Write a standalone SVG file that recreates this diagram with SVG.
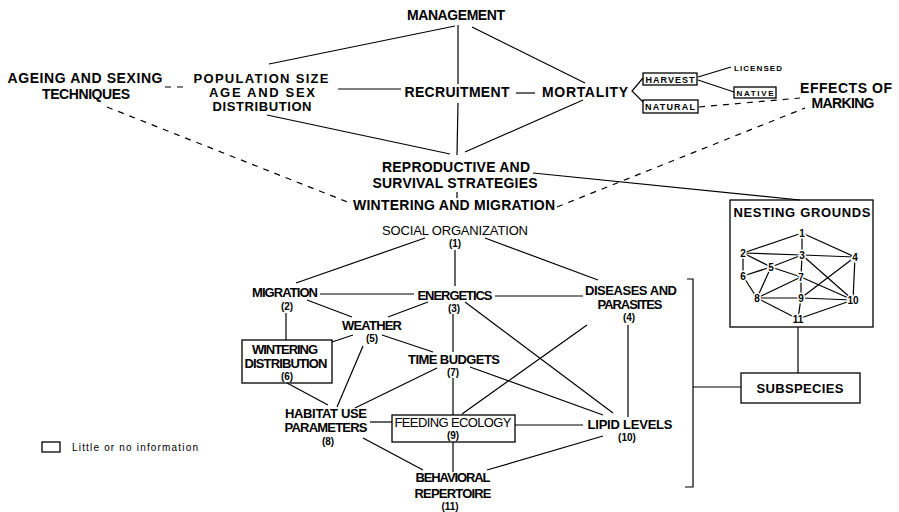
<svg xmlns="http://www.w3.org/2000/svg" width="899" height="512" viewBox="0 0 899 512">
<style>
text{font-family:"Liberation Sans",Arial,sans-serif;fill:#000;text-anchor:middle}
.b{font-size:14px;font-weight:bold}
.t{font-size:13px;font-weight:bold}
.r{font-size:13px}
.n{font-size:10px;font-weight:bold}
.s{font-size:9px;font-weight:bold}
.m{font-size:10px;font-weight:bold;stroke:#fff;stroke-width:3px;paint-order:stroke}
.box{fill:none;stroke:#000;stroke-width:1.3}
.ln{stroke:#000;stroke-width:1.2;fill:none}
.dl{stroke:#000;stroke-width:1.2;fill:none;stroke-dasharray:6 6}
</style>
<rect width="899" height="512" fill="#fff"/>
<g id="connectors">
<line class="ln" x1="455" y1="26" x2="269" y2="64"/>
<line class="ln" x1="458" y1="25" x2="458" y2="84"/>
<line class="ln" x1="458" y1="103" x2="457" y2="155"/>
<line class="ln" x1="472" y1="27" x2="585" y2="83"/>
<line class="ln" x1="338" y1="89" x2="401" y2="89"/>
<line class="ln" x1="516" y1="93" x2="535" y2="93"/>
<line class="ln" x1="267" y1="115" x2="450" y2="154"/>
<line class="ln" x1="583" y1="100" x2="465" y2="152"/>
<polyline class="ln" points="643,78 632,91 643,102"/>
<line class="ln" x1="698" y1="77" x2="731" y2="67"/>
<line class="ln" x1="698" y1="80" x2="734" y2="92"/>
<line class="dl" x1="699" y1="107" x2="800" y2="98"/>
<line class="dl" x1="165" y1="87" x2="183" y2="87"/>
<line class="dl" x1="107" y1="107" x2="350" y2="203"/>
<line class="dl" x1="557" y1="207" x2="805" y2="108"/>
<line class="ln" x1="533" y1="173" x2="800" y2="200"/>
<line class="ln" x1="457" y1="192" x2="457" y2="198"/>
<line class="ln" x1="798" y1="327" x2="798" y2="373"/>
<path class="ln" d="M687,279 H693 V487 H685"/>
<line class="ln" x1="693" y1="387" x2="741" y2="387"/>
<line class="ln" x1="425" y1="238" x2="296" y2="283"/>
<line class="ln" x1="455" y1="250" x2="455" y2="286"/>
<line class="ln" x1="485" y1="238" x2="598" y2="280"/>
<line class="ln" x1="320" y1="294" x2="414" y2="294"/>
<line class="ln" x1="495" y1="296" x2="583" y2="296"/>
<line class="ln" x1="307" y1="300" x2="352" y2="317"/>
<line class="ln" x1="428" y1="302" x2="388" y2="317"/>
<line class="ln" x1="286" y1="313" x2="286" y2="340"/>
<line class="ln" x1="353" y1="335" x2="332" y2="342"/>
<line class="ln" x1="382" y1="335" x2="433" y2="352"/>
<line class="ln" x1="363" y1="346" x2="337" y2="407"/>
<line class="ln" x1="453" y1="314" x2="453" y2="352"/>
<line class="ln" x1="465" y1="302" x2="613" y2="413"/>
<line class="ln" x1="587" y1="325" x2="462" y2="414"/>
<line class="ln" x1="628" y1="325" x2="628" y2="417"/>
<line class="ln" x1="437" y1="368" x2="355" y2="408"/>
<line class="ln" x1="470" y1="367" x2="603" y2="415"/>
<line class="ln" x1="453" y1="378" x2="453" y2="415"/>
<line class="ln" x1="287" y1="383" x2="328" y2="405"/>
<line class="ln" x1="370" y1="422" x2="392" y2="422"/>
<line class="ln" x1="515" y1="425" x2="583" y2="425"/>
<line class="ln" x1="363" y1="438" x2="423" y2="470"/>
<line class="ln" x1="453" y1="442" x2="453" y2="472"/>
<line class="ln" x1="603" y1="436" x2="487" y2="470"/>
</g>
<g id="management"><text class="b" x="456" y="20" textLength="98">MANAGEMENT</text></g>
<g id="ageing"><text class="b" x="85" y="83" textLength="155">AGEING AND SEXING</text><text class="b" x="86" y="99" textLength="88">TECHNIQUES</text></g>
<g id="population"><text class="t" x="261" y="83" textLength="135">POPULATION SIZE</text><text class="t" x="262" y="97" textLength="106">AGE AND SEX</text><text class="t" x="262" y="111" textLength="99">DISTRIBUTION</text></g>
<g id="recruitment"><text class="b" x="457" y="97" textLength="105">RECRUITMENT</text></g>
<g id="mortality"><text class="b" x="585" y="97" textLength="86">MORTALITY</text></g>
<g id="harvest"><rect class="box" x="643" y="73" width="54" height="12"/><text class="s" x="670" y="83" textLength="49">HARVEST</text></g>
<g id="natural"><rect class="box" x="643" y="100" width="55" height="13"/><text class="s" x="670" y="110" textLength="50">NATURAL</text></g>
<g id="licensed"><text class="s" x="758" y="71" textLength="48" style="font-size:8px">LICENSED</text></g>
<g id="native"><rect class="box" x="734" y="87" width="42" height="11"/><text class="s" x="755" y="96" textLength="37" style="font-size:8px">NATIVE</text></g>
<g id="effects"><text class="b" x="846" y="93" textLength="92">EFFECTS OF</text><text class="b" x="843" y="108" textLength="63">MARKING</text></g>
<g id="reproductive"><text class="b" x="456" y="172" textLength="148">REPRODUCTIVE AND</text><text class="b" x="455" y="188" textLength="165">SURVIVAL STRATEGIES</text></g>
<g id="wintering-migration"><text class="b" x="454" y="210" textLength="202">WINTERING AND MIGRATION</text></g>
<g id="nesting-grounds">
<rect class="box" x="730" y="200" width="143" height="127"/>
<text class="b" x="802" y="217" textLength="137" style="font-size:13px">NESTING GROUNDS</text>
<g class="ln">
<line x1="802" y1="233" x2="743" y2="253"/>
<line x1="802" y1="233" x2="855" y2="257"/>
<line x1="802" y1="233" x2="802" y2="255"/>
<line x1="743" y1="253" x2="802" y2="255"/>
<line x1="802" y1="255" x2="855" y2="257"/>
<line x1="743" y1="253" x2="771" y2="267"/>
<line x1="802" y1="255" x2="771" y2="267"/>
<line x1="743" y1="253" x2="743" y2="276"/>
<line x1="743" y1="276" x2="771" y2="267"/>
<line x1="771" y1="267" x2="801" y2="277"/>
<line x1="771" y1="267" x2="757" y2="298"/>
<line x1="743" y1="276" x2="757" y2="298"/>
<line x1="802" y1="255" x2="801" y2="277"/>
<line x1="802" y1="255" x2="853" y2="300"/>
<line x1="855" y1="257" x2="801" y2="298"/>
<line x1="855" y1="257" x2="853" y2="300"/>
<line x1="801" y1="277" x2="757" y2="298"/>
<line x1="801" y1="277" x2="853" y2="300"/>
<line x1="801" y1="277" x2="801" y2="298"/>
<line x1="757" y1="298" x2="801" y2="298"/>
<line x1="801" y1="298" x2="853" y2="300"/>
<line x1="757" y1="298" x2="798" y2="319"/>
<line x1="801" y1="298" x2="798" y2="319"/>
<line x1="853" y1="300" x2="798" y2="319"/>
</g>
<text class="m" x="802" y="237">1</text>
<text class="m" x="743" y="257">2</text>
<text class="m" x="802" y="259">3</text>
<text class="m" x="855" y="261">4</text>
<text class="m" x="771" y="271">5</text>
<text class="m" x="743" y="280">6</text>
<text class="m" x="801" y="281">7</text>
<text class="m" x="757" y="302">8</text>
<text class="m" x="801" y="302">9</text>
<text class="m" x="853" y="304">10</text>
<text class="m" x="798" y="323">11</text>
</g>
<g id="subspecies"><rect class="box" x="741" y="373" width="119" height="30"/><text class="t" x="800" y="393" textLength="87">SUBSPECIES</text></g>
<g id="social-organization"><text class="r" x="455" y="235" textLength="146">SOCIAL ORGANIZATION</text><text class="n" x="455" y="247">(1)</text></g>
<g id="migration"><text class="t" x="285" y="297" textLength="66">MIGRATION</text><text class="n" x="287" y="310">(2)</text></g>
<g id="energetics"><text class="t" x="455" y="300" textLength="75">ENERGETICS</text><text class="n" x="454" y="312">(3)</text></g>
<g id="diseases"><text class="t" x="631" y="295" textLength="92">DISEASES AND</text><text class="t" x="630" y="309" textLength="65">PARASITES</text><text class="n" x="629" y="321">(4)</text></g>
<g id="weather"><text class="t" x="372" y="330" textLength="60">WEATHER</text><text class="n" x="372" y="342">(5)</text></g>
<g id="wintering-distribution"><rect class="box" x="242" y="340" width="90" height="43"/><text class="t" x="285" y="354" textLength="66">WINTERING</text><text class="t" x="286" y="368" textLength="83">DISTRIBUTION</text><text class="n" x="287" y="380">(6)</text></g>
<g id="time-budgets"><text class="t" x="454" y="364" textLength="92">TIME BUDGETS</text><text class="n" x="453" y="376">(7)</text></g>
<g id="habitat-use"><text class="t" x="326" y="418" textLength="82">HABITAT USE</text><text class="t" x="326" y="432" textLength="83">PARAMETERS</text><text class="n" x="328" y="445">(8)</text></g>
<g id="feeding-ecology"><rect class="box" x="392" y="415" width="123" height="27"/><text class="r" x="453" y="427" textLength="117">FEEDING ECOLOGY</text><text class="n" x="453" y="439">(9)</text></g>
<g id="lipid-levels"><text class="t" x="630" y="429" textLength="85">LIPID LEVELS</text><text class="n" x="627" y="441">(10)</text></g>
<g id="behavioral-repertoire"><text class="t" x="453" y="482" textLength="75">BEHAVIORAL</text><text class="t" x="453" y="498" textLength="77">REPERTOIRE</text><text class="n" x="450" y="510">(11)</text></g>
<g id="legend"><rect class="box" x="42" y="442" width="18" height="10"/><text x="72" y="451" textLength="126" style="font-size:10px;text-anchor:start">Little or no information</text></g>
</svg>
